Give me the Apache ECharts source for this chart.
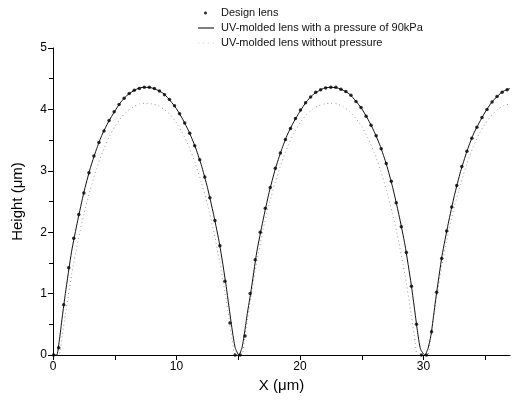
<!DOCTYPE html>
<html>
<head>
<meta charset="utf-8">
<script src="https://cdn.jsdelivr.net/npm/echarts@6/dist/echarts.min.js"></script>
<style>html,body{margin:0;padding:0;background:#fff}#c{width:517px;height:408px}</style>
</head>
<body>
<div id="c"></div>
<script>
// ---- data ----
var seriesNames = ['Design lens', 'UV-molded lens with a pressure of 90kPa', 'UV-molded lens without pressure'];

var xDesign = [0.05,0.46,0.87,1.27,1.68,2.09,2.50,2.91,3.31,3.72,4.13,4.54,4.95,5.35,5.76,6.17,6.58,6.99,7.39,7.80,
  8.21,8.62,9.03,9.43,9.84,10.25,10.66,11.07,11.47,11.88,12.29,12.70,13.11,13.51,13.92,14.33,14.74,15.15,15.55,15.96,
  16.37,16.78,17.19,17.59,18.00,18.41,18.82,19.23,19.63,20.04,20.45,20.86,21.27,21.67,22.08,22.49,22.90,23.31,23.71,24.12,
  24.53,24.94,25.35,25.75,26.16,26.57,26.98,27.39,27.79,28.20,28.61,29.02,29.43,29.83,30.24,30.65,31.06,31.47,31.87,32.28,
  32.69,33.10,33.51,33.91,34.32,34.73,35.14,35.55,35.95,36.36,36.77];
var yDesign = [0,0.12,0.82,1.42,1.90,2.29,2.64,2.97,3.24,3.46,3.65,3.82,3.96,4.08,4.18,4.26,4.31,4.34,4.36,4.36,
  4.34,4.30,4.24,4.16,4.06,3.93,3.78,3.61,3.41,3.18,2.90,2.56,2.19,1.78,1.20,0.52,0,0,0.31,1.00,
  1.55,2.00,2.39,2.73,3.04,3.29,3.51,3.69,3.85,3.99,4.11,4.20,4.28,4.32,4.35,4.36,4.36,4.33,4.29,4.23,
  4.13,4.03,3.89,3.74,3.57,3.36,3.12,2.83,2.48,2.09,1.67,1.12,0.50,0,0,0.38,1.02,1.57,2.02,2.41,
  2.76,3.07,3.32,3.53,3.71,3.87,4.00,4.12,4.21,4.28,4.32];

var xLine = [0,0.3,0.5,0.75,1,1.5,2,2.5,3,3.5,4,4.5,5,5.5,6,6.5,7,7.5,8,8.5,9,9.5,10,10.5,11,11.5,12,12.5,13,13.5,14,
  14.25,14.5,14.75,15.05,15.3,15.55,15.75,
  16,16.5,17,17.5,18,18.5,19,19.5,20,20.5,21,21.5,22,22.5,23,23.5,24,24.5,25,25.5,26,26.5,27,27.5,28,28.5,29,
  29.25,29.5,29.75,30.1,30.35,30.6,30.8,
  31,31.5,32,32.5,33,33.5,34,34.5,35,35.5,36,36.5,37];
var yPressure = [0,0,0.22,0.62,1.00,1.68,2.19,2.65,3.03,3.34,3.60,3.80,3.97,4.12,4.23,4.30,4.35,4.36,4.35,4.31,4.25,4.14,4.01,3.84,3.64,3.40,3.10,2.73,2.29,1.79,1.15,
  0.78,0.42,0.12,0,0.12,0.42,0.70,
  1.00,1.68,2.19,2.65,3.03,3.34,3.60,3.80,3.97,4.12,4.23,4.30,4.35,4.36,4.35,4.31,4.25,4.14,4.01,3.84,3.64,3.40,3.10,2.73,2.29,1.79,1.15,
  0.78,0.40,0.10,0,0.10,0.32,0.62,
  0.93,1.62,2.14,2.60,2.99,3.31,3.58,3.78,3.96,4.11,4.22,4.30,4.34];
var yNoPressure = [0,0,0,0.32,0.66,1.30,1.84,2.29,2.68,3.02,3.30,3.53,3.72,3.86,3.97,4.04,4.09,4.10,4.09,4.06,4.00,3.91,3.78,3.61,3.40,3.13,2.82,2.46,2.03,1.52,0.92,
  0.59,0.25,0,0,0,0.32,0.59,
  0.92,1.52,2.03,2.46,2.82,3.13,3.40,3.61,3.78,3.91,4.00,4.06,4.09,4.10,4.09,4.04,3.97,3.86,3.72,3.53,3.30,3.02,2.68,2.29,1.84,1.30,0.66,
  0.32,0,0,0,0,0.32,0.59,
  0.86,1.47,1.99,2.42,2.79,3.11,3.38,3.60,3.77,3.90,4.00,4.06,4.09];

var xTickLabels = [0,10,20,30];
var xTickMarks = [0,5,10,15,20,25,30,35];
var yTickLabels = [0,1,2,3,4,5];

function zip(xs, ys){ return xs.map(function(x,i){ return [x, ys[i]]; }); }

var FONT = '"Liberation Sans", Arial, sans-serif';
var chart = echarts.init(document.getElementById('c'), null, {renderer:'canvas'});
chart.setOption({
  animation:false,
  backgroundColor:'#ffffff',
  grid:{left:53, right:7, top:48, bottom:53, containLabel:false},
  legend:{
    orient:'vertical', left:193, top:1, itemWidth:16, itemHeight:4, itemGap:1,
    textStyle:{fontFamily:FONT, fontSize:11, color:'#111', lineHeight:14, padding:[0,0,0,2]},
    data:[
      {name:seriesNames[0], icon:'path://M0,1.5 L16,1.5 Z M6,1 L7,0 L8,0 L9,1 L9,2 L8,3 L7,3 L6,2 Z', itemStyle:{color:'#000'}},
      {name:seriesNames[1], icon:'path://M0,0 L16,0 L16,1 L0,1 Z', itemStyle:{color:'#000'}},
      {name:seriesNames[2], icon:'path://M0,0 L1,0 L1,1 L0,1 Z M5,0 L6,0 L6,1 L5,1 Z M10,0 L11,0 L11,1 L10,1 Z M15,0 L16,0 L16,1 L15,1 Z', itemStyle:{color:'#d0d0d0'}}
    ]
  },
  xAxis:{
    type:'value', min:0, max:37, interval:5,
    name:'X (\u03bcm)', nameLocation:'middle', nameGap:23,
    nameTextStyle:{fontFamily:FONT, fontSize:15, color:'#000'},
    axisLine:{lineStyle:{color:'#000', width:1}},
    axisTick:{length:5, lineStyle:{color:'#000'}, customValues:xTickMarks},
    axisLabel:{fontFamily:FONT, fontSize:12, color:'#000', margin:6, customValues:xTickLabels},
    splitLine:{show:false}
  },
  yAxis:{
    type:'value', min:0, max:5, interval:1,
    name:'Height (\u03bcm)', nameLocation:'middle', nameGap:28,
    nameTextStyle:{fontFamily:FONT, fontSize:15, color:'#000'},
    axisLine:{show:true, lineStyle:{color:'#000', width:1}},
    axisTick:{show:true, length:5, lineStyle:{color:'#000'}},
    minorTick:{show:true, splitNumber:2, length:4, lineStyle:{color:'#000'}},
    axisLabel:{fontFamily:FONT, fontSize:12, color:'#000', margin:6,
      customValues:yTickLabels},
    splitLine:{show:false}
  },
  series:[
    {name:seriesNames[0], type:'scatter', data:zip(xDesign,yDesign), symbol:'circle', symbolSize:3.5,
     itemStyle:{color:'#000'}, z:5},
    {name:seriesNames[1], type:'line', data:zip(xLine,yPressure), symbol:'none', smooth:0.2,
     lineStyle:{color:'#111', width:1}, itemStyle:{color:'#111'}, z:4},
    {name:seriesNames[2], type:'line', data:zip(xLine,yNoPressure), symbol:'none', smooth:0.2,
     lineStyle:{color:'#9a9a9a', width:1, type:[1,3]}, itemStyle:{color:'#9a9a9a'}, z:3}
  ]
});
</script>
</body>
</html>
